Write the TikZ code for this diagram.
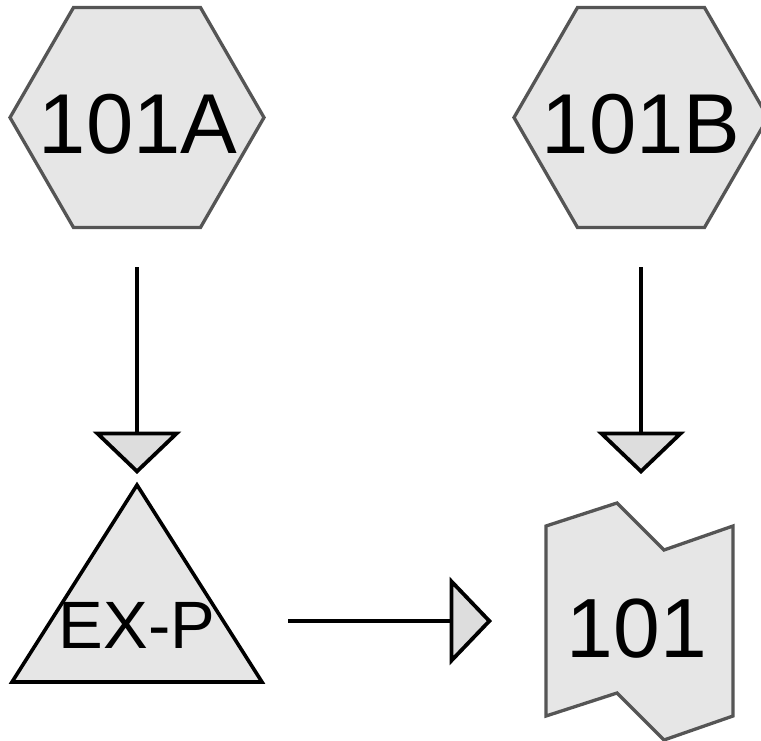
\documentclass[tikz,border=0pt]{standalone}
\usepackage{fontspec}
\setmainfont{Liberation Sans}
\usetikzlibrary{shapes.geometric,arrows.meta}
\definecolor{shapefill}{HTML}{E6E6E6}
\definecolor{tipfill}{HTML}{DDDDDD}
\definecolor{edgegray}{HTML}{555555}
\begin{document}
\begin{tikzpicture}[x=1pt,y=-1pt,
  hexa/.style={regular polygon, regular polygon sides=6, minimum size=254pt, inner sep=0pt, outer sep=0pt, draw=edgegray, fill=shapefill, line width=3.3pt},
  bigtext/.style={font=\fontsize{85}{85}\selectfont, inner sep=0pt, anchor=base},
  midtext/.style={font=\fontsize{67}{67}\selectfont, inner sep=0pt, anchor=base},
  conn/.style={draw=black, line width=3.8pt, -{Triangle[length=42.5pt, width=88pt, fill=tipfill, line join=miter]}}]
\useasboundingbox (0,0) rectangle (761,740);
% hexagons
\node[hexa] (hexA) at (137,117.5) {};
\node[hexa] (hexB) at (641,117.5) {};
\node[bigtext] (labA) at (138,153) {101A};
\node[bigtext] (labB) at (641,153) {101B};
% triangle EX-P
\draw[line width=3.6pt, fill=shapefill, line join=miter] (137,485) -- (262,682) -- (12,682) -- cycle;
\coordinate (triApex) at (137,484);
\coordinate (triRight) at (263,621);
\node[midtext] (exp) at (137,648) {EX-P};
% flag shape 101
\draw[line width=3.3pt, draw=edgegray, fill=shapefill, line join=miter]
  (546,526) -- (617,503) -- (664,550) -- (733,526) -- (733,716) -- (664,740) -- (617,693) -- (546,716) -- cycle;
\coordinate (flagTop) at (641,527);
\coordinate (flagLeft) at (546,621);
\node[bigtext, font=\fontsize{84}{84}\selectfont] (lab101) at (637,657) {101};
% connectors
\draw[conn, shorten <=40pt, shorten >=10pt] (hexA.south) -- (triApex);
\draw[conn, shorten <=40pt, shorten >=53pt] (hexB.south) -- (flagTop);
\draw[conn, shorten <=25pt, shorten >=54pt] (triRight) -- (flagLeft);
\end{tikzpicture}
\end{document}
